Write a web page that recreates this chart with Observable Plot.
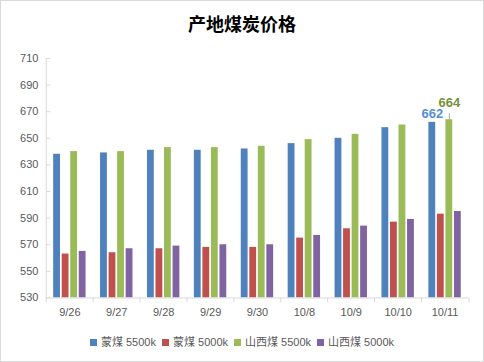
<!DOCTYPE html>
<html><head><meta charset="utf-8">
<script src="https://cdn.jsdelivr.net/npm/d3@7"></script>
<script src="https://cdn.jsdelivr.net/npm/@observablehq/plot@0.6"></script>
<style>
body{margin:0;background:#fff;}
#chart{position:relative;width:484px;height:362px;box-sizing:border-box;border:1px solid #d9d9d9;background:#fff;overflow:hidden;}
#title{position:absolute;top:13px;left:-1px;width:484px;text-align:center;font:bold 18px/18px "Noto Sans CJK SC",sans-serif;color:#000;}
#plot{position:absolute;left:-1px;top:43px;}
#legend{position:absolute;top:333px;left:-1px;width:484px;display:flex;justify-content:center;align-items:center;font:11px/16px "Liberation Sans","Noto Sans CJK SC",sans-serif;color:#595959;}
#legend .item{display:flex;align-items:center;margin:0 3px;}
#legend .sw{width:7px;height:7px;margin-right:4px;}
</style></head>
<body>
<div id="chart">
  <div id="title">产地煤炭价格</div>
  <div id="plot"></div>
  <div id="legend"></div>
</div>
<script>
const dates = ["9/26","9/27","9/28","9/29","9/30","10/8","10/9","10/10","10/11"];
const series = ["蒙煤 5500k","蒙煤 5000k","山西煤 5500k","山西煤 5000k"];
const meng5500 = [638,639,641,641,642,646,650,658,662];
const meng5000 = [563,564,567,568,568,575,582,587,593];
const shanxi5500 = [640,640,643,643,644,649,653,660,664];
const shanxi5000 = [565,567,569,570,570,577,584,589,595];
const colors = ["#4f81bd","#c0504d","#9bbb59","#8064a2"];
const yTicks = [530,550,570,590,610,630,650,670,690,710];
const labelColors = ["#558ed5","#76923c"];

const valuesBySeries = [meng5500, meng5000, shanxi5500, shanxi5000];
const rows = [];
dates.forEach((d, i) => series.forEach((s, j) => rows.push({date: d, series: s, value: valuesBySeries[j][i]})));

const W = 484, H = 280, mL = 43, mR = 12, mT = 14, mB = 26;
const pInner = 0.2, pOuter = 0.85;
const facetW = (W - mL - mR) / dates.length;
const step = facetW / (series.length - pInner + 2 * pOuter);
const bw = step * (1 - pInner);
const edge = -(pOuter * step + bw / 2);
const plotH = H - mT - mB;
const axisColor = "#d9d9d9";
const first = dates[0];
const last = dates[dates.length - 1];

const chart = Plot.plot({
  width: W, height: H,
  marginLeft: mL, marginRight: mR, marginTop: mT, marginBottom: mB,
  style: {fontFamily: '"Liberation Sans","Noto Sans CJK SC",sans-serif', fontSize: "11px", color: "#595959", background: "transparent"},
  fx: {domain: dates, padding: 0, label: null, axis: "bottom", tickSize: 0, tickPadding: 10},
  x: {domain: series, paddingInner: pInner, paddingOuter: pOuter, round: false, axis: null},
  y: {domain: [530, 710], ticks: yTicks, tickSize: 0, tickPadding: 8, label: null},
  color: {domain: series, range: colors},
  marks: [
    Plot.barY(rows, {fx: "date", x: "series", y1: 530, y2: "value", fill: "series"}),
    Plot.ruleY([530], {stroke: axisColor}),
    // left axis line and inside tick marks (first facet only)
    Plot.ruleX(rows, {fx: "date", filter: d => d.date === first && d.series === series[0], x: "series", dx: edge, stroke: axisColor}),
    Plot.ruleY(yTicks, {fx: () => first, insetRight: facetW - 5, stroke: axisColor}),
    // category boundary ticks below the axis
    Plot.ruleX(rows, {fx: "date", filter: d => d.series === series[0], x: "series", dx: edge, insetTop: plotH, insetBottom: -5, stroke: axisColor}),
    Plot.ruleX(rows, {fx: "date", filter: d => d.date === last && d.series === series[0], x: "series", dx: edge + facetW, insetTop: plotH, insetBottom: -5, stroke: axisColor}),
    // data labels
    Plot.ruleX(rows, {fx: "date", filter: d => d.date === last && d.series === series[2], x: "series", y1: "value", y2: "value", insetTop: -6, stroke: "#a6a6a6"}),
    Plot.text(rows, {fx: "date", filter: d => d.date === last && d.series === series[0], x: "series", y: "value", text: d => String(d.value), dy: -9, fill: labelColors[0], fontWeight: "bold", fontSize: 13}),
    Plot.text(rows, {fx: "date", filter: d => d.date === last && d.series === series[2], x: "series", y: "value", text: d => String(d.value), dy: -17, fill: labelColors[1], fontWeight: "bold", fontSize: 13})
  ]
});
document.getElementById("plot").appendChild(chart);

const legend = document.getElementById("legend");
series.forEach((s, j) => {
  const it = document.createElement("div");
  it.className = "item";
  const sw = document.createElement("div");
  sw.className = "sw";
  sw.style.background = colors[j];
  const tx = document.createElement("span");
  tx.textContent = s;
  it.appendChild(sw); it.appendChild(tx);
  legend.appendChild(it);
});
</script>
</body></html>
